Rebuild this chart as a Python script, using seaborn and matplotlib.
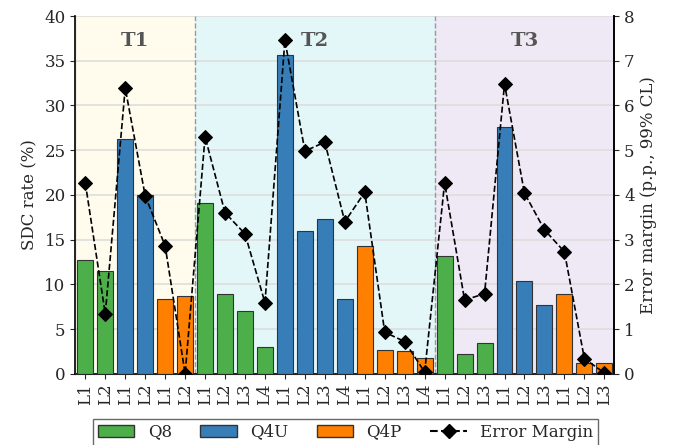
import numpy as np
import pandas as pd
import matplotlib
matplotlib.use("Agg")
import matplotlib.pyplot as plt
import seaborn as sns
from matplotlib.patches import Patch
from matplotlib.lines import Line2D

# Data
groups = ["T1", "T2", "T3"]
labels = ["L1", "L2", "L1", "L2", "L1", "L2",
          "L1", "L2", "L3", "L4", "L1", "L2", "L3", "L4", "L1", "L2", "L3", "L4",
          "L1", "L2", "L3", "L1", "L2", "L3", "L1", "L2", "L3"]
quant = (["Q8"] * 2 + ["Q4U"] * 2 + ["Q4P"] * 2
         + ["Q8"] * 4 + ["Q4U"] * 4 + ["Q4P"] * 4
         + ["Q8"] * 3 + ["Q4U"] * 3 + ["Q4P"] * 3)
group_of = ["T1"] * 6 + ["T2"] * 12 + ["T3"] * 9
sdc_rate = [12.7, 11.5, 26.3, 20.0, 8.4, 8.7,
            19.1, 8.9, 7.0, 3.0, 35.6, 16.0, 17.3, 8.4, 14.3, 2.7, 2.5, 1.75,
            13.2, 2.2, 3.4, 27.6, 10.35, 7.7, 8.9, 1.2, 1.2]
err_margin = [4.27, 1.34, 6.39, 3.98, 2.86, 0.0,
              5.30, 3.60, 3.13, 1.59, 7.46, 4.98, 5.18, 3.40, 4.06, 0.93, 0.72, 0.04,
              4.27, 1.65, 1.79, 6.48, 4.04, 3.22, 2.73, 0.34, 0.02]

colors = {"Q8": "#4daf4a", "Q4U": "#377eb8", "Q4P": "#ff7f00"}
bg = {"T1": "#fffcee", "T2": "#e3f6f8", "T3": "#eee9f5"}

df = pd.DataFrame({"pos": np.arange(len(labels)), "label": labels,
                   "quant": quant, "group": group_of,
                   "sdc": sdc_rate, "err": err_margin})

sns.set_style("ticks")
plt.rcParams["font.family"] = ["DejaVu Serif"]
plt.rcParams["font.size"] = 12

fig, ax = plt.subplots(figsize=(6.91, 4.45), dpi=100)

# group background spans
for g in groups:
    sub = df[df["group"] == g]
    lo, hi = sub["pos"].min() - 0.5, sub["pos"].max() + 0.5
    ax.axvspan(lo, hi, color=bg[g], zorder=0, lw=0)
    ax.text((lo + hi) / 2, 37.2, g, ha="center", va="center",
            fontsize=14, fontweight="bold", color="#555555")
    if g != groups[-1]:
        ax.axvline(hi, color="#9a9a9a", ls="--", lw=1.0, zorder=1)

sns.barplot(data=df, x="pos", y="sdc", hue="quant", palette=colors,
            dodge=False, width=0.8, saturation=1, edgecolor="#333333", linewidth=0.8,
            legend=False, ax=ax, zorder=3)

ax.set_xlim(-0.5, len(labels) - 0.5)
ax.set_ylim(0, 40)
ax.set_yticks(range(0, 41, 5))
ax.yaxis.grid(True, color="#dddddd", lw=1.2, zorder=0)
ax.set_axisbelow(True)
ax.set_xticks(df["pos"])
ax.set_xticklabels(labels, rotation=90)
ax.set_xlabel("")
ax.set_ylabel("SDC rate (%)")
ax.spines["top"].set_visible(False)
for s in ["left", "bottom", "right"]:
    ax.spines[s].set_color("black")
    ax.spines[s].set_linewidth(1.2)

ax2 = ax.twinx()
sns.lineplot(data=df, x="pos", y="err", ax=ax2, color="black",
             linestyle="--", marker="D", markersize=7, lw=1.2,
             markeredgecolor="black", zorder=5)
ax2.set_ylim(0, 8)
ax2.set_ylabel("Error margin (p.p., 99% CL)")
ax2.spines["top"].set_visible(False)
ax2.spines["right"].set_color("black")
ax2.spines["right"].set_linewidth(1.2)
ax2.set_xlim(-0.5, len(labels) - 0.5)

handles = [Patch(facecolor=colors[q], edgecolor="#333333", label=q) for q in ["Q8", "Q4U", "Q4P"]]
handles.append(Line2D([0], [0], color="black", ls="--", marker="D", markersize=7, label="Error Margin"))
leg = fig.legend(handles=handles, loc="lower center", ncol=4, bbox_to_anchor=(0.5, -0.02),
                 frameon=True, fancybox=False, edgecolor="#444444", columnspacing=1.7,
                 handlelength=2.2, borderpad=0.3)

fig.subplots_adjust(left=0.109, right=0.889, top=0.964, bottom=0.16)
fig.savefig("out.png", dpi=100)
